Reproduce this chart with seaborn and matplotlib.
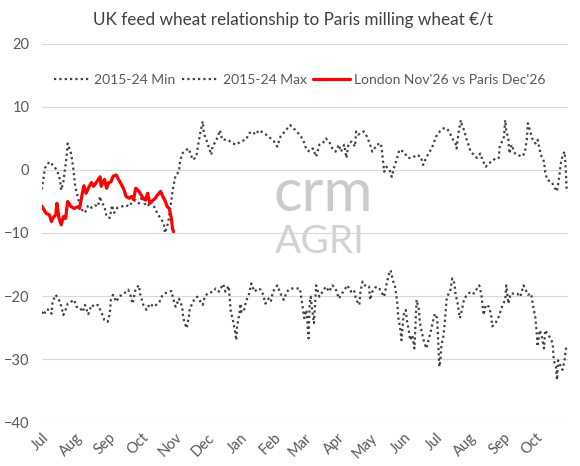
import pandas as pd
import matplotlib
matplotlib.use("Agg")
import matplotlib.pyplot as plt
import matplotlib.dates as mdates
import seaborn as sns

# chart text
title = "UK feed wheat relationship to Paris milling wheat €/t"
label_min = "2015-24 Min"
label_max = "2015-24 Max"
label_cur = "London Nov'26 vs Paris Dec'26"

season_start = "2025-07-01"

# days since 1 Jul, values in EUR/t
max_days = [0, 3, 7, 10, 14, 17, 18, 20, 23, 24, 27, 29, 31, 34, 37, 40, 43, 46, 49, 52,
            54, 55, 58, 60, 63, 65, 67, 70, 74, 78, 81, 84, 87, 90, 93, 95, 98, 101, 104, 107,
            110, 113, 114, 117, 120, 121, 123, 124, 127, 128, 130, 134, 136, 138, 140, 143, 145, 147, 149, 150,
            153, 155, 157, 158, 161, 163, 165, 167, 172, 177, 180, 184, 189, 192, 195, 198, 201, 206, 210, 215,
            218, 221, 226, 230, 235, 240, 243, 245, 248, 251, 254, 257, 260, 263, 266, 269, 272, 275, 277, 280,
            282, 284, 287, 290, 291, 293, 295, 298, 301, 304, 306, 308, 310, 314, 315, 316, 317, 319, 322, 324,
            326, 329, 331, 335, 339, 343, 347, 351, 353, 355, 358, 361, 364, 366, 369, 372, 375, 378, 380, 383,
            384, 386, 388, 389, 391, 393, 395, 397, 400, 403, 406, 408, 411, 414, 417, 420, 423, 424, 426, 428,
            429, 430, 432, 433, 435, 438, 441, 444, 447, 449, 450, 452, 454, 457, 459, 461, 462, 465, 466, 468,
            472, 475, 477, 479, 481, 483, 484, 485, 486]
max_vals = [-3.1, 0.3, 1.3, 0.8, 0.0, -1.6, -3.2, -1.9, 2.1, 4.2, 2.7, 0.5, -2.6, -4.8, -6.3, -6.8, -5.6, -6.0, -5.6, -5.8,
            -4.2, -5.0, -5.8, -7.4, -7.6, -5.6, -6.8, -6.0, -5.8, -5.6, -5.8, -5.0, -4.8, -5.3, -4.2, -5.3, -5.8, -5.0, -5.8, -6.9,
            -7.7, -8.5, -10.0, -8.4, -4.8, -3.4, -1.6, -0.8, -0.3, 1.3, 2.6, 3.2, 3.4, 2.4, 1.6, 2.1, 4.2, 6.1, 7.7, 5.8,
            4.5, 3.4, 2.4, 3.7, 4.5, 5.3, 6.3, 4.8, 4.8, 4.2, 4.0, 4.5, 4.8, 5.8, 6.1, 5.6, 6.3, 5.8, 5.3, 4.5,
            3.7, 5.3, 6.3, 7.1, 6.3, 5.3, 4.3, 3.2, 2.9, 3.4, 2.1, 4.0, 4.2, 5.0, 4.5, 3.4, 2.9, 4.0, 2.9, 4.0,
            1.9, 4.2, 4.5, 3.7, 6.1, 5.6, 5.8, 6.1, 5.3, 4.0, 2.9, 3.4, 4.0, 4.2, 2.9, 1.3, -0.3, 0.5, 0.0, -1.1,
            0.3, 1.9, 3.2, 2.9, 1.9, 1.9, 2.4, 2.1, 0.8, 1.6, 2.6, 3.4, 4.8, 5.6, 6.2, 6.6, 6.6, 5.8, 5.0, 4.2,
            3.4, 6.1, 7.9, 7.1, 6.3, 5.0, 4.0, 2.9, 2.4, 1.9, 2.6, 1.6, 0.5, 1.1, 1.3, 1.9, 1.9, 3.7, 4.5, 5.3,
            7.9, 6.3, 4.8, 2.6, 4.0, 2.6, 2.4, 2.1, 2.6, 4.8, 7.4, 6.3, 5.0, 4.2, 4.8, 3.2, 2.4, 1.3, -0.3, -1.6,
            -1.9, -2.9, -3.4, -1.1, 1.6, 2.6, 2.9, 0.5, -3.5]

min_days = [0, 2, 4, 7, 9, 10, 13, 15, 17, 20, 22, 24, 27, 30, 32, 35, 38, 40, 43, 46,
            49, 52, 55, 58, 61, 63, 64, 66, 69, 72, 75, 80, 82, 84, 87, 90, 91, 94, 97, 100,
            104, 109, 112, 115, 120, 122, 124, 127, 130, 131, 133, 134, 136, 137, 141, 144, 147, 149, 151, 155,
            158, 161, 164, 168, 170, 173, 174, 175, 177, 179, 180, 181, 183, 184, 185, 187, 189, 192, 194, 197,
            200, 203, 205, 207, 210, 212, 214, 218, 221, 224, 227, 230, 234, 239, 241, 243, 245, 247, 248, 249,
            250, 252, 253, 254, 257, 260, 263, 266, 269, 272, 275, 278, 281, 283, 286, 289, 291, 294, 295, 297,
            300, 303, 304, 306, 309, 312, 314, 317, 319, 321, 323, 325, 327, 329, 330, 332, 333, 335, 337, 338,
            340, 341, 343, 345, 347, 349, 350, 352, 354, 356, 358, 360, 362, 364, 366, 367, 368, 369, 370, 372,
            373, 374, 375, 378, 380, 382, 383, 385, 387, 389, 391, 394, 397, 400, 403, 405, 407, 409, 411, 414,
            416, 417, 420, 423, 426, 429, 430, 432, 434, 437, 440, 443, 446, 448, 450, 453, 455, 457, 458, 459,
            461, 463, 465, 466, 469, 471, 473, 474, 476, 477, 478, 480, 482, 484, 485, 486]
min_vals = [-22.5, -23.0, -22.1, -22.2, -22.8, -20.9, -19.8, -20.4, -20.9, -23.0, -22.2, -21.2, -20.9, -20.6, -21.7, -21.8, -22.5, -21.4, -22.9, -21.4,
            -21.7, -21.4, -22.5, -23.8, -24.1, -22.8, -20.6, -19.8, -20.9, -20.0, -19.8, -19.0, -19.8, -21.2, -18.8, -18.3, -19.6, -21.4, -22.2, -21.2,
            -21.7, -20.9, -19.8, -19.5, -19.2, -20.6, -21.7, -20.4, -21.7, -23.5, -24.6, -25.1, -23.5, -22.0, -20.6, -20.1, -20.9, -21.4, -20.0, -19.4,
            -19.4, -18.8, -19.3, -18.1, -19.3, -18.4, -20.4, -22.5, -23.8, -25.7, -27.0, -24.6, -22.8, -21.2, -22.5, -22.5, -20.9, -19.6, -18.0, -19.3,
            -18.8, -19.0, -19.8, -21.2, -20.4, -20.9, -19.3, -18.3, -19.6, -20.6, -19.3, -18.8, -18.8, -18.8, -21.2, -23.5, -22.2, -26.7, -21.2, -20.1,
            -21.7, -24.3, -21.2, -18.3, -20.1, -19.3, -18.5, -19.3, -18.3, -18.8, -20.4, -19.6, -18.8, -18.3, -19.3, -19.0, -20.6, -21.4, -19.3, -17.7,
            -18.5, -18.5, -20.6, -19.3, -18.6, -18.6, -19.3, -20.1, -18.3, -16.7, -15.9, -17.5, -18.5, -20.9, -23.3, -25.4, -27.0, -23.0, -22.2, -23.8,
            -25.7, -27.0, -26.2, -28.3, -20.6, -22.0, -24.1, -25.9, -27.3, -28.3, -27.0, -25.7, -24.1, -22.8, -23.5, -27.0, -31.2, -30.2, -27.8, -26.2,
            -24.3, -22.2, -20.1, -19.3, -17.2, -18.0, -19.6, -21.2, -23.5, -22.2, -20.4, -19.8, -19.3, -19.6, -18.8, -18.3, -19.8, -23.0, -21.4, -21.7,
            -23.0, -24.8, -24.3, -23.3, -21.7, -20.6, -18.3, -21.2, -19.6, -19.6, -19.6, -20.1, -18.3, -19.0, -19.8, -19.6, -21.7, -23.5, -25.4, -28.0,
            -25.4, -26.5, -28.3, -25.4, -26.2, -26.7, -27.5, -30.2, -31.2, -33.3, -30.2, -31.0, -31.7, -30.2, -28.6, -27.8]

cur_days = [0, 2, 4, 7, 9, 10, 13, 14, 16, 18, 20, 22, 24, 27, 30, 34, 35, 37, 39, 41,
            44, 46, 48, 50, 54, 55, 58, 60, 62, 64, 66, 69, 71, 74, 76, 78, 81, 83, 85, 87,
            90, 91, 94, 96, 98, 100, 103, 105, 107, 110, 112, 114, 116, 118, 120, 121, 122]
cur_vals = [-5.7, -6.3, -6.9, -7.1, -8.2, -7.7, -7.1, -5.3, -7.7, -8.7, -7.4, -7.7, -5.0, -5.8, -6.1, -5.8, -6.1, -4.2, -2.5, -3.7,
            -2.6, -2.0, -2.6, -2.1, -1.1, -2.6, -1.5, -2.9, -2.0, -1.9, -1.0, -0.8, -1.5, -2.4, -3.1, -4.2, -4.5, -4.2, -4.7, -2.9,
            -3.4, -3.7, -4.5, -4.8, -3.7, -5.3, -4.8, -4.5, -4.0, -3.4, -4.2, -4.8, -5.8, -6.1, -7.7, -9.3, -9.8]


def to_frame(days, vals):
    d = pd.Timestamp(season_start) + pd.to_timedelta(days, unit="D")
    return pd.DataFrame({"date": d, "value": vals})


df_min = to_frame(min_days, min_vals)
df_max = to_frame(max_days, max_vals)
df_cur = to_frame(cur_days, cur_vals)

sns.set_style("white")
plt.rcParams["font.family"] = ["Lato", "DejaVu Sans"]

fig = plt.figure(figsize=(5.8, 4.66), dpi=100)
ax = fig.add_axes([0.072, 0.094, 0.907, 0.812])

dots = (0, (1, 1.4))
sns.lineplot(data=df_min, x="date", y="value", ax=ax, color="#404040", lw=1.6,
             linestyle=dots, estimator=None, label=label_min)
sns.lineplot(data=df_max, x="date", y="value", ax=ax, color="#404040", lw=1.6,
             linestyle=dots, estimator=None, label=label_max)
sns.lineplot(data=df_cur, x="date", y="value", ax=ax, color="#ff0000", lw=2.3,
             estimator=None, label=label_cur)

ax.set_ylim(-40, 20)
ax.set_yticks(range(-40, 21, 10))
ax.set_xlim(pd.Timestamp(season_start), pd.Timestamp(season_start) + pd.Timedelta(days=487))
ax.xaxis.set_major_locator(mdates.MonthLocator())
ax.xaxis.set_major_formatter(mdates.DateFormatter("%b"))
ax.set_xlabel("")
ax.set_ylabel("")
ax.grid(axis="y", color="#d9d9d9", lw=0.8)
ax.set_axisbelow(True)
for s in ax.spines.values():
    s.set_visible(False)
ax.tick_params(axis="both", length=0, labelsize=10.5, labelcolor="#595959")
ax.tick_params(axis="y", pad=9)
plt.setp(ax.get_xticklabels(), rotation=45, ha="right", rotation_mode="anchor")
ax.tick_params(axis="x", pad=6)

ax.legend(loc="center", bbox_to_anchor=(0.49, 0.905), ncol=3, frameon=False,
          fontsize=10, labelcolor="#595959", handlelength=2.6, handletextpad=0.3,
          columnspacing=0.5)

fig.suptitle(title, x=0.505, y=0.975, fontsize=12.3, color="#404040")

# watermark
fig.text(0.557, 0.548, "crm", fontsize=43, color="#cbcbcb", ha="center", va="baseline")
fig.text(0.551, 0.458, "AGRI", fontsize=28, color="#d2d2d2", ha="center", va="baseline")

fig.savefig("out.png", dpi=100)
